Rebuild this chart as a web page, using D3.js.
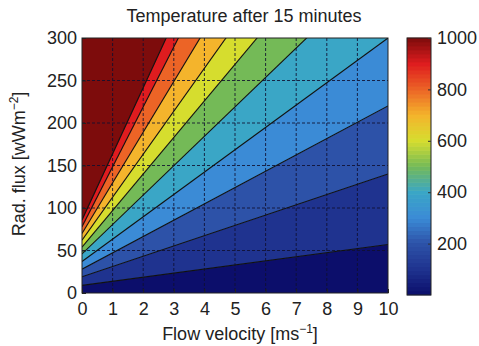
<!DOCTYPE html>
<html>
<head>
<meta charset="utf-8">
<script src="https://cdn.jsdelivr.net/npm/d3@7"></script>
<style>
  body { margin: 0; background: #fff; }
  text { font-family: "Liberation Sans", Arial, sans-serif; fill: #222; }
</style>
</head>
<body>
<svg id="chart" width="479" height="346"></svg>
<script>
// Axis ticks
const velocityTicks = [0, 1, 2, 3, 4, 5, 6, 7, 8, 9, 10];
const fluxTicks = [0, 50, 100, 150, 200, 250, 300];
const colorbarTicks = [200, 400, 600, 800, 1000];

// Isotherm levels (temperature) and where each straight isotherm sits:
// radiative flux at v = 0 and at v = 10 m/s (beyond 300 when it leaves through the top)
const levels     = [100, 200, 300, 400, 500, 600, 700, 800, 900, 1000];
const fluxAtZero = [9, 19, 28, 37, 46, 54, 62, 70, 78, 86];
const fluxAtTen  = [57, 140, 220, 300, 392, 484, 568, 666, 783, 864];

// Jet-like colour map, 0 .. 1000
const colorStops = [0, 100, 200, 300, 400, 500, 600, 700, 800, 900, 1000];
const colorValues = ["#0c0e6b", "#1f338f", "#2d52a8", "#3b8bd6", "#3aa6c6", "#74ba57",
                     "#d6dd2e", "#f4b42c", "#ec6426", "#df1c1f", "#7d0c0c"];

const svg = d3.select("#chart");
const plot = { left: 82, right: 388, top: 38, bottom: 293 };

const x = d3.scaleLinear().domain([0, 10]).range([plot.left, plot.right]);
const y = d3.scaleLinear().domain([0, 300]).range([plot.bottom, plot.top]);
const color = d3.scaleLinear().domain(colorStops).range(colorValues).interpolate(d3.interpolateRgb);

svg.append("defs").append("clipPath").attr("id", "plot-clip")
  .append("rect")
  .attr("x", plot.left).attr("y", plot.top)
  .attr("width", plot.right - plot.left).attr("height", plot.bottom - plot.top);

const field = svg.append("g").attr("clip-path", "url(#plot-clip)");

// Filled bands between consecutive isotherms
const bandLow = [0].concat(levels);
const bands = bandLow.map((lv, i) => {
  const lo = i === 0 ? [-100, -100] : [fluxAtZero[i - 1], fluxAtTen[i - 1]];
  const hi = i === levels.length ? [5000, 5000] : [fluxAtZero[i], fluxAtTen[i]];
  return { level: lv, pts: [[0, lo[0]], [10, lo[1]], [10, hi[1]], [0, hi[0]]] };
});

field.selectAll("path.band").data(bands).join("path")
  .attr("class", "band")
  .attr("d", d => "M" + d.pts.map(p => [x(p[0]), y(p[1])].join(",")).join("L") + "Z")
  .attr("fill", d => color(d.level))
  .attr("stroke", d => color(d.level))
  .attr("stroke-width", 0.5);

// Grid
const grid = field.append("g").attr("stroke", "#101030").attr("stroke-width", 1)
  .attr("stroke-dasharray", "3,2").attr("opacity", 0.85);
grid.selectAll("line.gx").data(velocityTicks.slice(1, -1)).join("line")
  .attr("x1", d => x(d)).attr("x2", d => x(d))
  .attr("y1", plot.top).attr("y2", plot.bottom);
grid.selectAll("line.gy").data(fluxTicks.slice(1, -1)).join("line")
  .attr("y1", d => y(d)).attr("y2", d => y(d))
  .attr("x1", plot.left).attr("x2", plot.right);

// Isotherm lines
const isoLine = d3.line().x(d => x(d[0])).y(d => y(d[1]));
field.selectAll("path.iso").data(levels.map((lv, i) => [[0, fluxAtZero[i]], [10, fluxAtTen[i]]]))
  .join("path")
  .attr("class", "iso")
  .attr("d", isoLine)
  .attr("fill", "none")
  .attr("stroke", "#111")
  .attr("stroke-width", 1.1);

// Axes (ticks pointing inward)
const xAxis = svg.append("g").attr("transform", `translate(0,${plot.bottom})`)
  .call(d3.axisBottom(x).tickValues(velocityTicks).tickSize(-4).tickPadding(9).tickFormat(d3.format("d")));
const yAxis = svg.append("g").attr("transform", `translate(${plot.left},0)`)
  .call(d3.axisLeft(y).tickValues(fluxTicks).tickSize(-4).tickPadding(5).tickFormat(d3.format("d")));
[xAxis, yAxis].forEach(a => {
  a.select(".domain").remove();
  a.selectAll("line").attr("stroke", "#222");
  a.selectAll("text").style("font-size", "18px").attr("fill", "#222");
});

svg.append("rect")
  .attr("x", plot.left).attr("y", plot.top)
  .attr("width", plot.right - plot.left).attr("height", plot.bottom - plot.top)
  .attr("fill", "none").attr("stroke", "#222").attr("stroke-width", 1);

// Title and axis labels
svg.append("text").attr("x", 244).attr("y", 22).attr("text-anchor", "middle")
  .style("font-size", "18px").text("Temperature after 15 minutes");

const xl = svg.append("text").attr("x", 240).attr("y", 340).attr("text-anchor", "middle")
  .style("font-size", "18px");
xl.append("tspan").text("Flow velocity [ms");
xl.append("tspan").attr("dy", -7).style("font-size", "12px").text("\u22121");
xl.append("tspan").attr("dy", 7).text("]");

const yl = svg.append("text").attr("transform", "translate(25,164) rotate(-90)")
  .attr("text-anchor", "middle").style("font-size", "18px");
yl.append("tspan").text("Rad. flux [wWm");
yl.append("tspan").attr("dy", -7).style("font-size", "12px").text("\u22122");
yl.append("tspan").attr("dy", 7).text("]");

// Colour bar
const cb = { left: 407, width: 24, top: 38, bottom: 295 };
const cbScale = d3.scaleLinear().domain([0, 1000]).range([cb.bottom, cb.top]);
const steps = d3.range(0, 1000, 1000 / 64);
svg.append("g").selectAll("rect").data(steps).join("rect")
  .attr("x", cb.left).attr("width", cb.width)
  .attr("y", d => cbScale(d + 1000 / 64) - 0.3)
  .attr("height", d => cbScale(d) - cbScale(d + 1000 / 64) + 0.6)
  .attr("fill", d => color(d + 500 / 64));
svg.append("rect").attr("x", cb.left).attr("y", cb.top)
  .attr("width", cb.width).attr("height", cb.bottom - cb.top)
  .attr("fill", "none").attr("stroke", "#222").attr("stroke-width", 1);
const cbAxis = svg.append("g").attr("transform", `translate(${cb.left + cb.width},0)`)
  .call(d3.axisRight(cbScale).tickValues(colorbarTicks).tickSize(-3).tickPadding(6).tickFormat(d3.format("d")));
cbAxis.select(".domain").remove();
cbAxis.selectAll("line").attr("stroke", "#333");
cbAxis.selectAll("text").style("font-size", "18px").attr("fill", "#222");
</script>
</body>
</html>
